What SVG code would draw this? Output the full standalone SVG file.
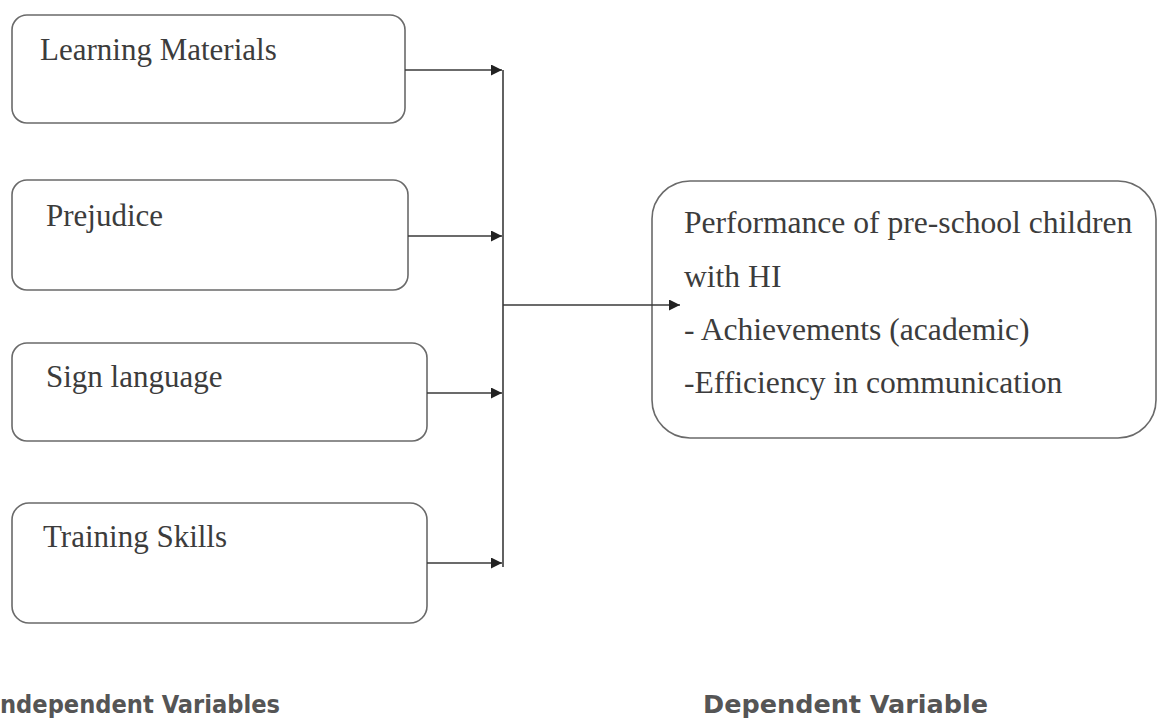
<svg xmlns="http://www.w3.org/2000/svg" width="1159" height="726" viewBox="0 0 1159 726">
<defs>
<style>
.box{fill:#fff;stroke:#6a6a6a;stroke-width:1.6}
.t{font-family:"Liberation Serif","Times New Roman",serif;font-size:31px;fill:#3c3c3c}
.t2{font-size:31.6px}
.lbl{font-family:"DejaVu Sans",sans-serif;font-stretch:condensed;font-weight:bold;font-size:25px;fill:#555}
.ln{fill:none;stroke:#3a3a3a;stroke-width:1.6}
</style>
<marker id="ah" viewBox="0 0 10 10" refX="10" refY="5" markerWidth="16" markerHeight="11" markerUnits="userSpaceOnUse" orient="auto">
<path d="M0,0 L10,5 L0,10 Z" fill="#222"/>
</marker>
</defs>
<rect width="1159" height="726" fill="#fff"/>
<g id="node-learning-materials">
<rect class="box" x="12" y="15" width="393" height="108" rx="15"/>
<text class="t" x="40" y="60">Learning Materials</text>
</g>
<g id="node-prejudice">
<rect class="box" x="12" y="180" width="396" height="110" rx="15"/>
<text class="t" x="46" y="226">Prejudice</text>
</g>
<g id="node-sign-language">
<rect class="box" x="12" y="343" width="415" height="98" rx="15"/>
<text class="t" x="46" y="387">Sign language</text>
</g>
<g id="node-training-skills">
<rect class="box" x="12" y="503" width="415" height="120" rx="17"/>
<text class="t" x="43" y="547">Training Skills</text>
</g>
<g id="node-performance">
<rect class="box" x="652" y="181" width="504" height="257" rx="38"/>
<text class="t t2" x="684" y="233">Performance of pre-school children</text>
<text class="t t2" x="684" y="287">with HI</text>
<text class="t t2" x="684" y="340">- Achievements (academic)</text>
<text class="t t2" x="684" y="393">-Efficiency in communication</text>
</g>
<g id="connectors">
<line class="ln" x1="503" y1="70" x2="503" y2="567"/>
<line class="ln" x1="405" y1="70" x2="502" y2="70" marker-end="url(#ah)"/>
<line class="ln" x1="408" y1="236" x2="502" y2="236" marker-end="url(#ah)"/>
<line class="ln" x1="427" y1="393" x2="502" y2="393" marker-end="url(#ah)"/>
<line class="ln" x1="427" y1="563" x2="502" y2="563" marker-end="url(#ah)"/>
<line class="ln" x1="503" y1="305" x2="680" y2="305" marker-end="url(#ah)"/>
</g>
<g id="labels">
<text class="lbl" x="0" y="713" textLength="280" lengthAdjust="spacingAndGlyphs">ndependent Variables</text>
<text class="lbl" x="703" y="713" textLength="285" lengthAdjust="spacingAndGlyphs">Dependent Variable</text>
</g>
</svg>
